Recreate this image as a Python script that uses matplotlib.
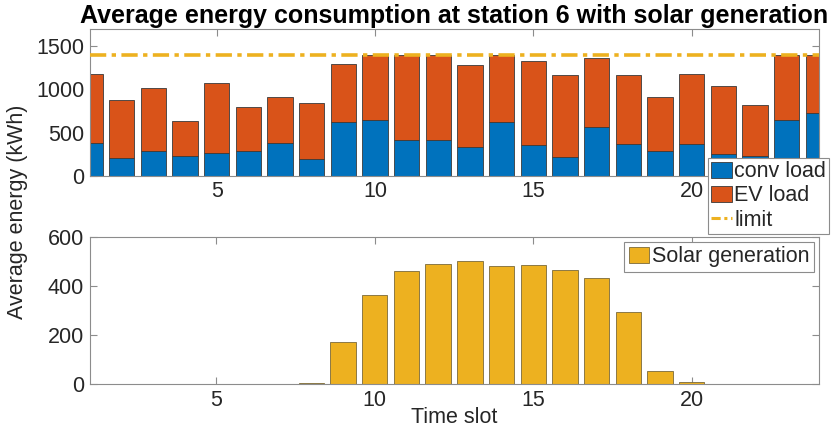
import matplotlib
matplotlib.use("Agg")
import matplotlib.pyplot as plt
import numpy as np
from matplotlib.patches import Patch
from matplotlib.lines import Line2D

slots = list(range(1, 25))
conv_load = [374, 204, 285, 228, 258, 285, 374, 193, 628, 647, 416, 416,
             335, 624, 351, 220, 559, 362, 285, 370, 250, 231, 643, 728]
ev_load = [804, 670, 736, 407, 813, 508, 543, 647, 670, 753, 984, 984,
           943, 776, 981, 943, 808, 809, 628, 808, 794, 594, 757, 672]
limit = 1400
solar = [0, 0, 0, 0, 0, 0, 0, 3, 170, 363, 461, 491, 503, 484, 488, 468,
         435, 295, 53, 7, 2, 2, 2, 2]
xticks = [5, 10, 15, 20]
yticks_top = [0, 500, 1000, 1500]
yticks_bot = [0, 200, 400, 600]

BLUE = "#0072BD"
ORANGE = "#D95319"
YELLOW = "#EDB120"
SPINE = "#8c8c8c"
TXT = "#262626"
EDGE = "#3a3a3a"

plt.rcParams['font.family'] = ['Liberation Sans', 'DejaVu Sans']
FS = 15.5

W, H = 831, 430
fig = plt.figure(figsize=(W / 100, H / 100), dpi=100)

def px_axes(l, t, r, b):
    return fig.add_axes([l / W, 1 - b / H, (r - l) / W, (b - t) / H])

ax1 = px_axes(90, 29, 818.5, 175.7)
ax2 = px_axes(89.5, 237.3, 818.5, 384)

x = np.array(slots)
ax1.bar(x, conv_load, width=0.8, color=BLUE, edgecolor=EDGE, linewidth=0.6, zorder=2)
ax1.bar(x, ev_load, width=0.8, bottom=conv_load, color=ORANGE, edgecolor=EDGE,
        linewidth=0.6, zorder=2)
ax1.axhline(limit, color=YELLOW, linewidth=2.6, linestyle=(0, (4.5, 1.5, 1.2, 1.5)), zorder=3)
ax1.set_ylim(0, 1700)
ax1.set_yticks(yticks_top)

ax2.bar(x, solar, width=0.8, color=YELLOW, edgecolor="#7a6a3a", linewidth=0.6, zorder=2)
ax2.set_ylim(0, 600)
ax2.set_yticks(yticks_bot)

for ax in (ax1, ax2):
    ax.set_xlim(1, 24)
    ax.set_xticks(xticks)
    for s in ax.spines.values():
        s.set_color(SPINE)
        s.set_linewidth(0.8)
    ax.tick_params(direction='in', length=5, width=0.8, color=SPINE,
                   labelcolor=TXT, labelsize=FS, top=True, right=True, pad=4)

ax1.set_title("Average energy consumption at station 6 with solar generation",
              fontsize=18, fontweight='bold', pad=4.5, color='black')

fig.text(454 / W, 1 - 428 / H, "Time slot", ha='center', va='bottom',
         fontsize=FS, color=TXT)
fig.text(18 / W, 1 - 212 / H, "Average energy (kWh)", ha='center', va='center',
         rotation=90, fontsize=FS, color=TXT)

handles1 = [Patch(facecolor=BLUE, edgecolor=EDGE, linewidth=0.6),
            Patch(facecolor=ORANGE, edgecolor=EDGE, linewidth=0.6),
            Line2D([0], [0], color=YELLOW, linewidth=2.2, linestyle=(0, (3, 1.2, 1, 1.2)))]
leg1 = fig.legend(handles1, ["conv load", "EV load", "limit"],
                  loc='upper left', bbox_to_anchor=(708 / W, 1 - 158 / H),
                  fontsize=FS, frameon=True, fancybox=False, edgecolor=SPINE,
                  framealpha=1, borderpad=0.15, labelspacing=0.15,
                  handlelength=0.95, handleheight=0.75, handletextpad=0.12,
                  borderaxespad=0)
leg1.get_frame().set_linewidth(0.8)
for t in leg1.get_texts():
    t.set_color(TXT)

leg2 = ax2.legend([Patch(facecolor=YELLOW, edgecolor="#7a6a3a", linewidth=0.6)],
                  ["Solar generation"], loc='upper right',
                  bbox_to_anchor=(813.5 / W, 1 - 242 / H), bbox_transform=fig.transFigure,
                  fontsize=FS, frameon=True, fancybox=False, edgecolor=SPINE,
                  framealpha=1, borderpad=0.2, handlelength=0.95, handleheight=0.75,
                  handletextpad=0.12, borderaxespad=0)
leg2.get_frame().set_linewidth(0.8)
for t in leg2.get_texts():
    t.set_color(TXT)

fig.savefig("out.png", dpi=100)
